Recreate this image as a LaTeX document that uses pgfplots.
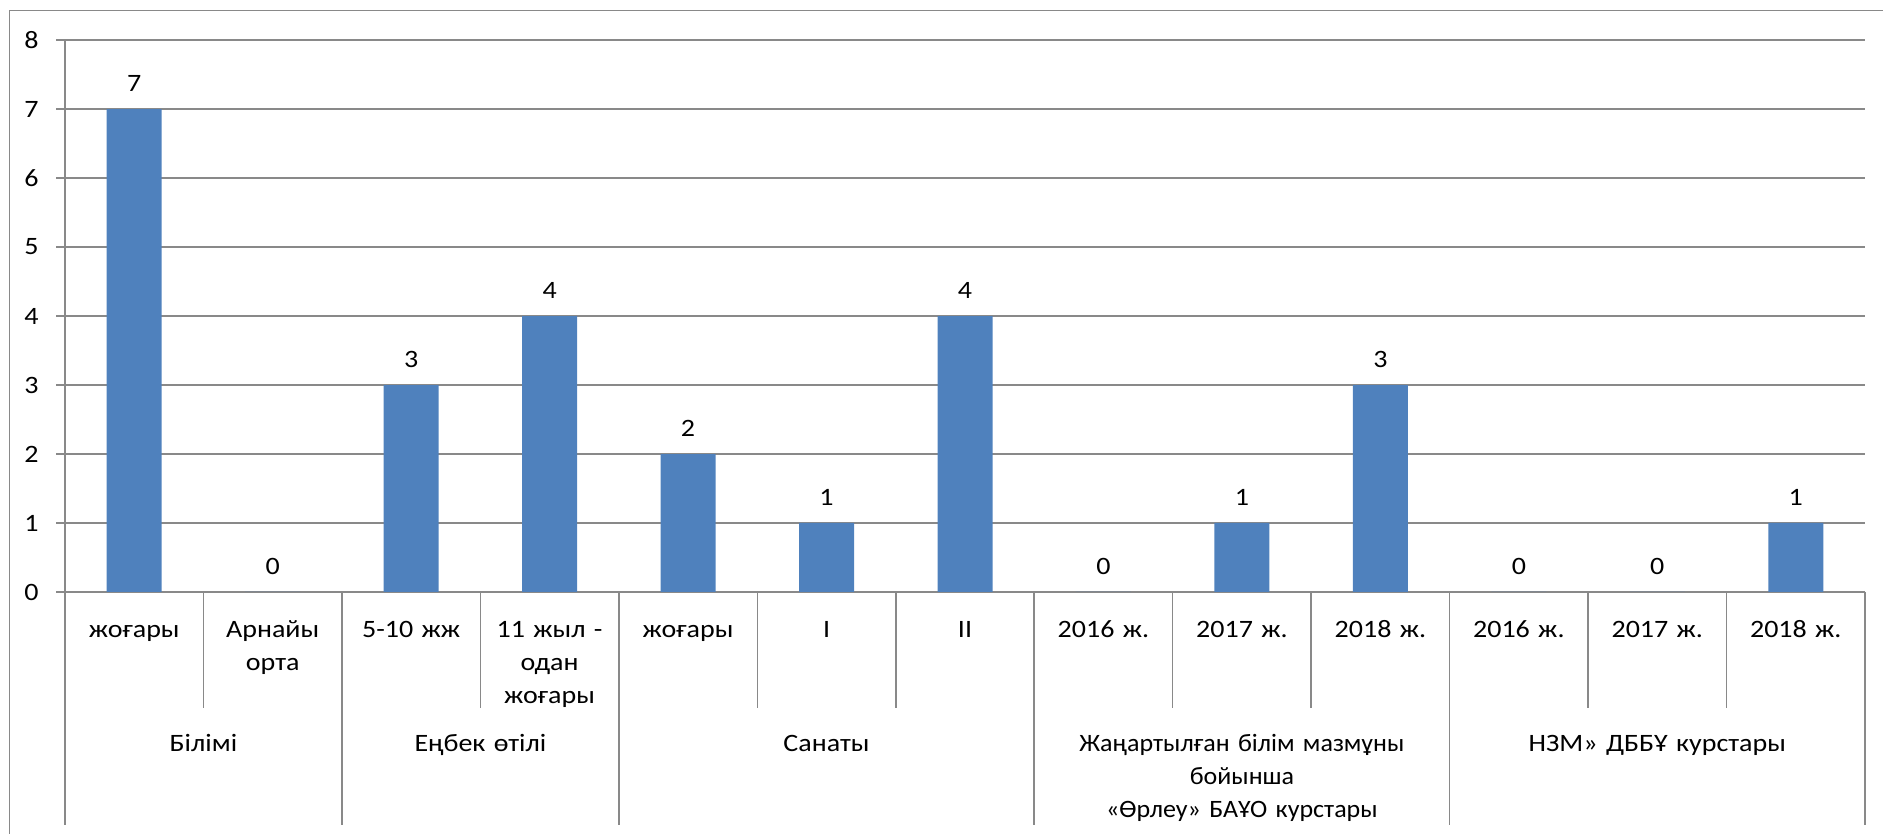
\documentclass[border=0pt]{standalone}
\usepackage{fontspec}
\setmainfont{Carlito}[FakeStretch=1.12]
\newfontfamily\narrowfont{Carlito}[FakeStretch=1.04]
\usepackage{pgfplots}
\pgfplotsset{compat=1.18}
\definecolor{barblue}{HTML}{4F81BD}
\definecolor{gridgray}{HTML}{898989}
\begin{document}
\begin{tikzpicture}[font=\fontsize{12.5}{16.5}\selectfont]
\useasboundingbox (0,0) rectangle (941.5pt,417pt);
\draw[gridgray, line width=0.75pt] (4.8pt,-10pt) -- (4.8pt,411.8pt) -- (960pt,411.8pt);
\begin{axis}[
  at={(32.5pt,121pt)}, anchor=south west,
  scale only axis, width=900pt, height=276pt,
  xmin=-0.5, xmax=12.5, ymin=0, ymax=8,
  ybar, bar width=27.5pt,
  axis x line*=bottom, axis y line*=left,
  axis line style={draw=gridgray, line width=0.75pt, -},
  ymajorgrids, grid style={gridgray, line width=0.75pt},
  ytick={0,...,8},
  tick align=outside,
  major tick length=4.5pt,
  ytick style={draw=gridgray, line width=0.75pt},
  xtick={0,...,12},
  xtick style={draw=none},
  xticklabels={жоғары,{Арнайы\\орта},5-10 жж,{11 жыл -\\одан\\жоғары},жоғары,I,II,2016 ж.,2017 ж.,2018 ж.,2016 ж.,2017 ж.,2018 ж.},
  xticklabel style={text width=66pt, align=center, anchor=north, yshift=-6.5pt, inner sep=0pt, execute at begin node={\strut}},
  yticklabel style={anchor=east, inner sep=0pt, xshift=-8.5pt},
  /pgf/number format/assume math mode=true,
  nodes near coords,
  every node near coord/.append style={anchor=center, yshift=13pt, black},
  clip=false,
]
\addplot[fill=barblue, draw=none] coordinates {
(0,7) (1,0) (2,3) (3,4) (4,2) (5,1) (6,4) (7,0) (8,1) (9,3) (10,0) (11,0) (12,1)};
\pgfplotsinvokeforeach{0.5,2.5,4.5,5.5,7.5,8.5,10.5,11.5}{
  \draw[gridgray, line width=0.75pt] (axis cs:#1,0) -- ([yshift=-58pt]axis cs:#1,0);
}
\pgfplotsinvokeforeach{-0.5,1.5,3.5,6.5,9.5,12.5}{
  \draw[gridgray, line width=0.75pt] (axis cs:#1,0) -- ([yshift=-116.5pt]axis cs:#1,0);
}
\tikzset{grp/.style={anchor=north, text width=200pt, align=center, inner sep=0pt, execute at begin node={\strut}}}
\node[grp] at ([yshift=-68.2pt]axis cs:0.5,0) {Білімі};
\node[grp] at ([yshift=-68.2pt]axis cs:2.5,0) {Еңбек өтілі};
\node[grp] at ([yshift=-68.2pt]axis cs:5,0) {Санаты};
\node[grp, font=\fontsize{12.5}{16.5}\narrowfont] at ([yshift=-68.2pt]axis cs:8,0) {Жаңартылған білім мазмұны\\бойынша\\«Өрлеу» БАҰО курстары};
\node[grp] at ([yshift=-68.2pt]axis cs:11,0) {НЗМ» ДББҰ курстары};
\end{axis}
\end{tikzpicture}
\end{document}
